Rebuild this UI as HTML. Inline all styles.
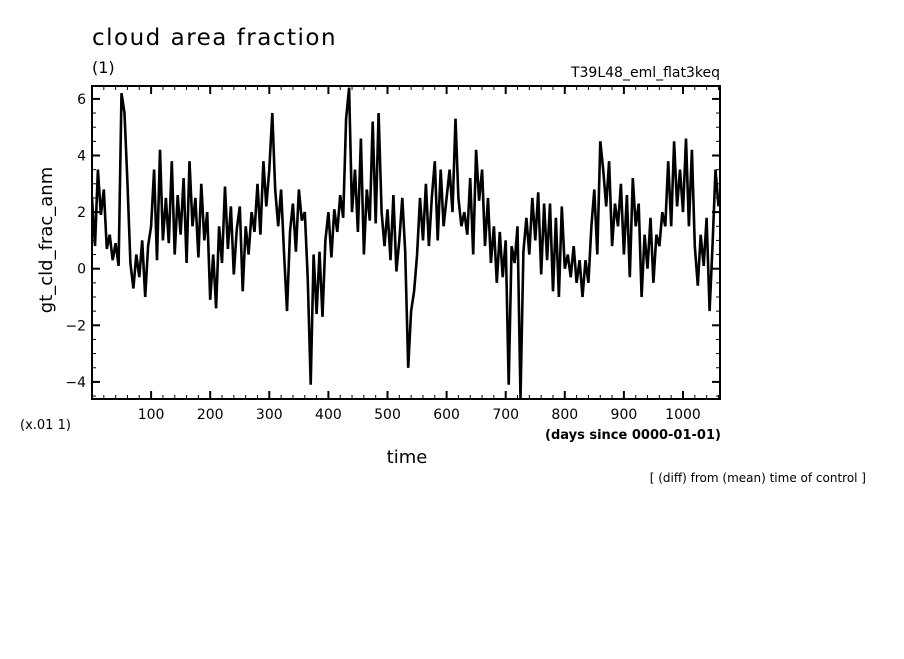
<!DOCTYPE html>
<html><head><meta charset="utf-8"><style>
body{margin:0;background:#fff;}
svg text{font-family:"DejaVu Sans","Liberation Sans",sans-serif;fill:#000;}
</style></head><body>
<svg id="chart" width="904" height="654" xmlns="http://www.w3.org/2000/svg">
<text x="92" y="45" font-size="23" letter-spacing="1.5">cloud area fraction</text>
<text x="92" y="73" font-size="16">(1)</text>
<text x="720" y="77" font-size="14" text-anchor="end">T39L48_eml_flat3keq</text>
<text transform="translate(52,240) rotate(-90)" font-size="18" text-anchor="middle">gt_cld_frac_anm</text>
<text x="20" y="429" font-size="13">(x.01 1)</text>
<text x="545" y="439" font-size="13" font-weight="bold">(days since 0000-01-01)</text>
<text x="407" y="463" font-size="18" text-anchor="middle">time</text>
<text x="866" y="482" font-size="12" text-anchor="end">[ (diff) from (mean) time of control ]</text>
<g id="plot"></g>
</svg>
<script>
const values = [2.5,0.8,3.5,1.9,2.8,0.7,1.2,0.3,0.9,0.1,
6.2,5.5,3,0.2,-0.7,0.5,-0.3,1,-1,0.8,
1.5,3.5,0.3,4.2,1,2.5,0.9,3.8,0.5,2.6,
1.2,3.2,0.2,3.8,1.5,2.5,0.4,3,1,2,
-1.1,0.5,-1.4,1.5,0.2,2.9,0.7,2.2,-0.2,1.4,
2.2,-0.8,1.5,0.5,2,1.3,3,1.2,3.8,2.2,
3.5,5.5,2.8,1.5,2.8,0.5,-1.5,1.3,2.3,0.6,
2.8,1.7,2,-0.3,-4.1,0.5,-1.6,0.6,-1.7,1,
2,0.4,2.1,1.3,2.6,1.8,5.3,6.4,2,3.5,
1.3,4.6,0.5,2.8,1.7,5.2,1.6,5.5,2,0.8,
2.1,0.3,2.6,-0.1,1,2.5,0.6,-3.5,-1.5,-0.8,
0.5,2.5,1,3,0.8,2.5,3.8,1,3.5,1.5,
2.5,3.5,2,5.3,2.5,1.5,2,1.2,3.2,0.5,
4.2,2.4,3.5,0.8,2.5,0.2,1.5,-0.5,1.3,-0.3,
1,-4.1,0.8,0.2,1.5,-4.6,0.6,1.8,0.5,2.5,
1,2.7,-0.2,2.3,0.3,2.3,-0.8,1.8,-1,2.2,
0,0.5,-0.3,0.8,-0.5,0.3,-1,0.3,-0.5,1.5,
2.8,0.5,4.5,3.5,2.2,3.8,0.8,2.3,1.5,3,
0.5,2.6,-0.3,3.2,1.5,2.3,-1,1.2,0,1.8,
-0.5,1.2,0.8,2,1.5,3.8,1.5,4.5,2.2,3.5,
2,4.6,1.5,4.2,0.8,-0.6,1.2,0.1,1.8,-1.5,
0.8,3.5,2.2];
const dayStep = 5;
const xTicks = [100,200,300,400,500,600,700,800,900,1000];
const yTicks = [-4,-2,0,2,4,6];
const NS='http://www.w3.org/2000/svg';
const L=92,R=720,T=86,B=399;
const xs=d=>92+d*0.591;
const ys=v=>268.7-v*28.3;
const g=document.getElementById('plot');
function mk(t,a){const e=document.createElementNS(NS,t);for(const k in a)e.setAttribute(k,a[k]);g.appendChild(e);return e;}
const cp=mk('clipPath',{id:'clip'});
g.removeChild(cp);
document.getElementById('chart').appendChild(cp);
const cr=document.createElementNS(NS,'rect');cr.setAttribute('x',L);cr.setAttribute('y',T);cr.setAttribute('width',R-L);cr.setAttribute('height',B-T);cp.appendChild(cr);
let pts=values.map((v,i)=>xs(i*dayStep).toFixed(1)+','+ys(v).toFixed(1)).join(' ');
const line=mk('polyline',{points:pts,fill:'none',stroke:'#000','stroke-width':2.6,'stroke-linejoin':'miter','clip-path':'url(#clip)'});


for(let d=20;d<=1060;d+=20){const maj=d%100===0;const len=maj?8:4;const x=xs(d);
 mk('line',{x1:x,y1:B,x2:x,y2:B-len,stroke:'#000','stroke-width':maj?2:1});
 mk('line',{x1:x,y1:T,x2:x,y2:T+len,stroke:'#000','stroke-width':maj?2:1});}
for(let v=-4.5;v<=6.4;v+=0.5){const maj=Math.abs(v%2)<1e-6;const len=maj?8:4;const y=ys(v);
 mk('line',{x1:L,y1:y,x2:L+len,y2:y,stroke:'#000','stroke-width':maj?2:1});
 mk('line',{x1:R,y1:y,x2:R-len,y2:y,stroke:'#000','stroke-width':maj?2:1});}
xTicks.forEach(d=>{const t=mk('text',{x:xs(d),y:419,'font-size':14,'text-anchor':'middle'});t.textContent=d;
 
 });
yTicks.forEach(v=>{const t=mk('text',{x:86,y:ys(v)+5,'font-size':14,'text-anchor':'end'});t.textContent=v<0?'\u2212'+(-v):v;
 
 });
const frame=mk('rect',{x:L,y:T,width:R-L,height:B-T,fill:'none',stroke:'#000','stroke-width':2});


</script>
</body></html>
